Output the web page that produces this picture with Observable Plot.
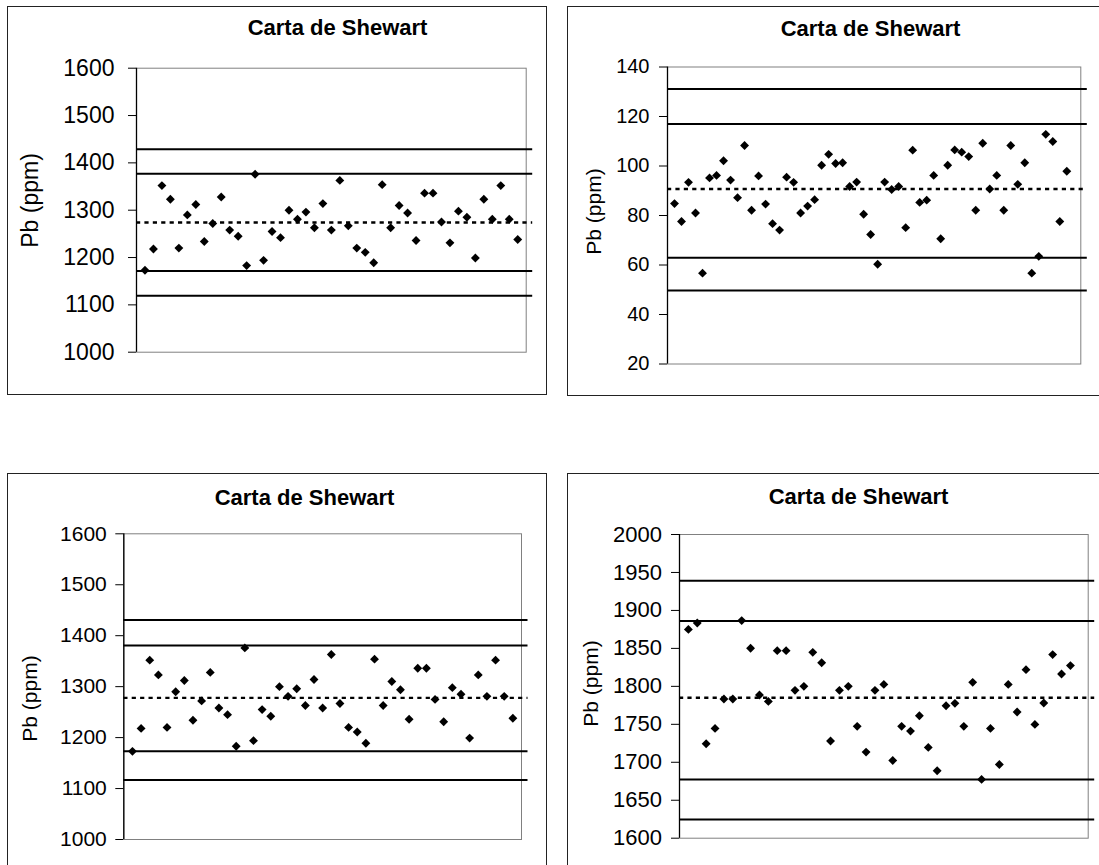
<!DOCTYPE html>
<html>
<head>
<meta charset="utf-8">
<script src="https://cdn.jsdelivr.net/npm/d3@7"></script>
<script src="https://cdn.jsdelivr.net/npm/@observablehq/plot@0.6"></script>
<style>
  html, body { margin: 0; padding: 0; background: #fff; }
  body { position: relative; width: 1099px; height: 865px; overflow: hidden; font-family: Arial, "Liberation Sans", sans-serif; }
  .border { position: absolute; box-sizing: border-box; border: 1.5px solid #222; pointer-events: none; }
</style>
</head>
<body>
<script>
// ---------- data ----------
const chartTitle = "Carta de Shewart";
const yLabel = "Pb (ppm)";

// top-left and bottom-left charts (same 45 samples)
const pbSeriesA = [1173,1218,1352,1323,1220,1290,1312,1234,1272,1328,1258,1245,1183,1376,1194,1255,1242,1300,1281,1296,1263,1314,1258,1363,1267,1220,1211,1189,1354,1263,1310,1294,1236,1336,1336,1275,1231,1298,1285,1199,1323,1281,1352,1281,1238];
const centerTL = 1274;
const limitsTL = [1429, 1377, 1171.5, 1119];
const centerBL = 1278;
const limitsBL = [1431, 1381, 1173, 1117];
const ticksA = [1000, 1100, 1200, 1300, 1400, 1500, 1600];

// top-right chart (57 samples)
const pbSeriesB = [84.8,77.6,93.4,81,56.7,95.2,96.2,102.1,94.3,87.2,108.3,82.1,96,84.6,76.7,74.1,95.5,93.4,81,83.8,86.4,100.3,104.7,101,101.3,91.7,93.5,80.5,72.3,60.3,93.5,90.5,91.7,75.1,106.4,85.3,86.2,96.2,70.6,100.3,106.5,105.6,103.8,82.1,109.2,90.7,96.2,82.1,108.3,92.6,101.3,56.7,63.5,112.8,109.9,77.6,97.9];
const centerTR = 90.7;
const limitsTR = [131.1, 117, 62.9, 49.7];
const ticksB = [20, 40, 60, 80, 100, 120, 140];

// bottom-right chart (44 samples)
const pbSeriesD = [1875,1883.5,1724.4,1744.6,1783.3,1783.3,1886.6,1850.1,1788.6,1780.2,1847,1847,1794.7,1800,1844.8,1831,1728,1794.7,1800,1747.3,1713.4,1794.7,1802.6,1702.4,1747.3,1741.1,1761.3,1719.6,1688.8,1774.5,1777.6,1747.3,1805.3,1677.4,1744.6,1697.1,1802.6,1766.2,1822,1749.9,1778,1841.8,1816.3,1827.3];
const centerBR = 1785;
const limitsBR = [1939, 1886, 1677.3, 1624.5];
const ticksD = [1600, 1650, 1700, 1750, 1800, 1850, 1900, 1950, 2000];

// ---------- layout (page pixels) ----------
const panels = [
  { box: {l: 7, t: 6, r: 547, b: 395}, frame: {x0: 136, x1: 525.7, y0: 67.7, y1: 351.7},
    values: pbSeriesA, center: centerTL, limits: limitsTL, ticks: ticksA, xmax: 46,
    tickFs: 23, tickPad: 14, titleFs: 22, titleCx: 337, titleBase: 34.5, labelFs: 23, labelX: 37, labelCy: 200 },
  { box: {l: 567, t: 6, r: 1115, b: 396}, frame: {x0: 667, x1: 1080.3, y0: 66.5, y1: 363.5},
    values: pbSeriesB, center: centerTR, limits: limitsTR, ticks: ticksB, xmax: 59,
    tickFs: 20, tickPad: 10, titleFs: 22, titleCx: 870, titleBase: 35, labelFs: 21, labelX: 600, labelCy: 211 },
  { box: {l: 7, t: 473, r: 547, b: 890}, frame: {x0: 123.3, x1: 521, y0: 533.3, y1: 839},
    values: pbSeriesA, center: centerBL, limits: limitsBL, ticks: ticksA, xmax: 46,
    tickFs: 21, tickPad: 9, titleFs: 22, titleCx: 304, titleBase: 504, labelFs: 21, labelX: 36, labelCy: 698 },
  { box: {l: 567, t: 473, r: 1115, b: 890}, frame: {x0: 679, x1: 1087.7, y0: 534, y1: 837.7},
    values: pbSeriesD, center: centerBR, limits: limitsBR, ticks: ticksD, xmax: 46,
    tickFs: 22, tickPad: 9.5, titleFs: 22, titleCx: 858, titleBase: 503, labelFs: 21, labelX: 597, labelCy: 683 }
];

function drawPanel(p) {
  const {box, frame} = p;
  const W = box.r - box.l, H = box.b - box.t;
  const pw = frame.x1 - frame.x0;
  const xExt = p.xmax * (pw + 6.5) / pw; // limit lines overshoot the plot area a little
  const pts = p.values.map((v, i) => ({n: i + 1, pb: v}));
  const svg = Plot.plot({
    width: W, height: H,
    marginLeft: frame.x0 - box.l, marginRight: box.r - frame.x1,
    marginTop: frame.y0 - box.t, marginBottom: box.b - frame.y1,
    style: {background: "transparent", fontFamily: "Arial, 'Liberation Sans', sans-serif", fontSize: p.tickFs + "px", color: "#000", overflow: "visible"},
    x: {domain: [0, p.xmax], axis: null},
    y: {domain: [p.ticks[0], p.ticks[p.ticks.length - 1]]},
    marks: [
      Plot.frame({stroke: "#808080", strokeWidth: 1}),
      Plot.ruleX([0], {stroke: "#000", strokeWidth: 1.3}),
      Plot.axisY({ticks: p.ticks, tickSize: 8, tickPadding: p.tickPad, tickFormat: d => String(d), label: null, fontSize: p.tickFs, stroke: "#000"}),
      Plot.ruleY(p.limits, {x1: 0, x2: xExt, stroke: "#000", strokeWidth: 2}),
      Plot.ruleY([p.center], {x1: 0, x2: xExt, stroke: "#000", strokeWidth: 2.4, strokeDasharray: "4.2,4.2"}),
      Plot.dot(pts, {x: "n", y: "pb", symbol: "diamond2", r: 4, fill: "#000", stroke: "none"}),
      Plot.text([chartTitle], {frameAnchor: "top", textAnchor: "middle", lineAnchor: "bottom",
        dx: p.titleCx - (frame.x0 + frame.x1) / 2, dy: p.titleBase - frame.y0,
        fontWeight: "bold", fontSize: p.titleFs}),
      Plot.text([yLabel], {frameAnchor: "left", textAnchor: "middle", lineAnchor: "bottom", rotate: -90,
        dx: p.labelX - frame.x0, dy: p.labelCy - (frame.y0 + frame.y1) / 2, fontSize: p.labelFs})
    ]
  });
  svg.style.position = "absolute";
  svg.style.left = box.l + "px";
  svg.style.top = box.t + "px";
  svg.style.maxWidth = "none";
  document.body.appendChild(svg);
  const border = document.createElement("div");
  border.className = "border";
  Object.assign(border.style, {left: box.l + "px", top: box.t + "px", width: W + "px", height: H + "px"});
  document.body.appendChild(border);
}

panels.forEach(drawPanel);
</script>
</body>
</html>
